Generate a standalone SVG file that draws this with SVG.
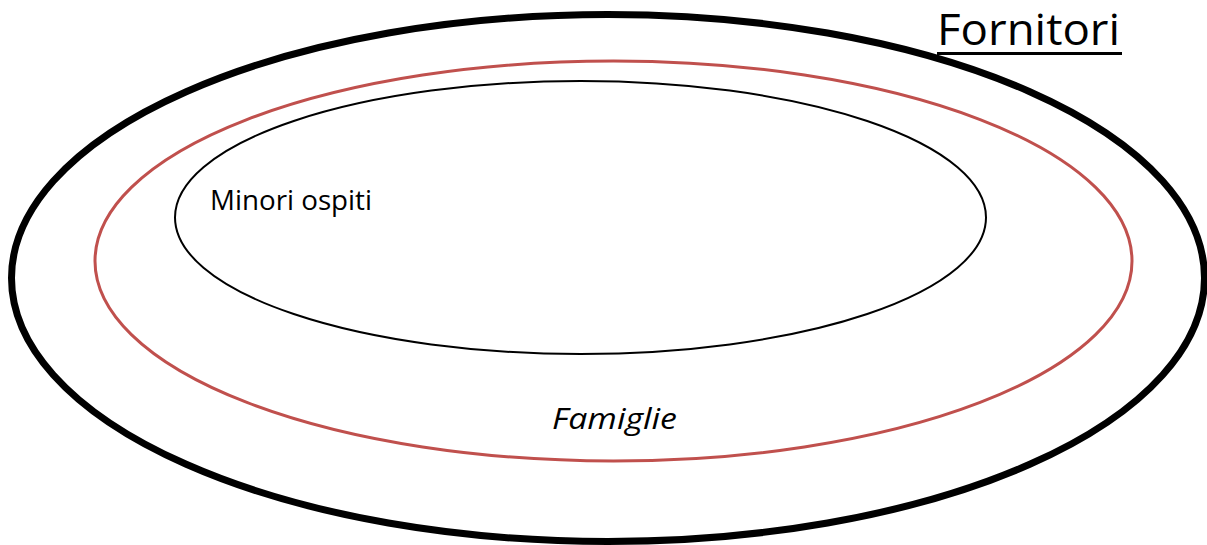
<svg xmlns="http://www.w3.org/2000/svg" width="1207" height="545" viewBox="0 0 1207 545">
  <style>
    .lbl { font-family: "Open Sans", "Liberation Sans", sans-serif; fill: #000; }
    .ring { fill: none; }
  </style>
  <rect width="1207" height="545" fill="#fff"/>
  <g id="fornitori">
    <ellipse class="ring" cx="608" cy="278" rx="596.5" ry="263.5" stroke="#000" stroke-width="7"/>
    <text class="lbl" x="937" y="45" font-size="44" textLength="183" lengthAdjust="spacingAndGlyphs">Fornitori</text>
    <line x1="937" y1="53.5" x2="1122" y2="53.5" stroke="#000" stroke-width="3"/>
  </g>
  <g id="famiglie">
    <ellipse class="ring" cx="613.5" cy="261" rx="518.5" ry="200" stroke="#C0504D" stroke-width="3"/>
    <text class="lbl" x="552" y="429" font-size="30" font-style="italic" textLength="125" lengthAdjust="spacingAndGlyphs">Famiglie</text>
  </g>
  <g id="minori">
    <ellipse class="ring" cx="580.5" cy="217.5" rx="405.5" ry="136.5" stroke="#000" stroke-width="2"/>
    <text class="lbl" x="210" y="210" font-size="27" textLength="162" lengthAdjust="spacingAndGlyphs">Minori ospiti</text>
  </g>
  <g id="connectors"/>
</svg>
